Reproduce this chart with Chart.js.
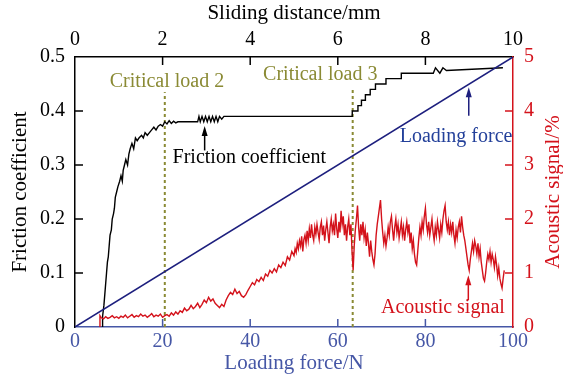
<!DOCTYPE html>
<html><head><meta charset="utf-8">
<script src="https://cdn.jsdelivr.net/npm/chart.js@4"></script>
<style>html,body{margin:0;padding:0;background:#fff}canvas{display:block}</style>
</head><body>
<canvas id="c" width="563" height="376"></canvas>
<script>
// ---------- DATA ----------
const loadRange = [0, 100];          // loading force, N
const slidingRange = [0, 10];        // sliding distance, mm
const frictionRange = [0, 0.5];
const acousticRange = [0, 5];

const loadingForceLoad = [0, 100];
const loadingForceCoef = [0, 0.5];

const criticalLoads = [20.5, 63.4];
const criticalTops = [0.435, 0.44];
const criticalLabels = ['Critical load 2', 'Critical load 3'];

const frictionLoad = [6.3,6.3,6.6,6.8,7.0,7.2,7.4,7.6,7.8,8.0,8.3,8.5,8.8,9.0,9.2,9.5,9.8,10.2,10.5,10.8,11.0,11.3,11.6,12.0,12.3,12.6,13.0,13.4,13.8,14.2,14.6,15.2,15.6,16.0,16.5,17.0,17.5,18.0,18.5,19.0,19.5,20.0,20.5,21.0,21.5,22.0,22.5,23.0,23.5,28.0,28.3,28.6,29.0,29.4,29.8,30.2,30.6,31.0,31.4,31.8,32.2,32.6,33.0,33.5,34.0,35.0,63.3,63.3,64.6,64.6,65.4,65.4,66.3,66.3,67.4,67.4,68.6,68.6,71.0,71.0,74.5,74.5,81.8,82.3,82.3,83.3,83.3,84.0,84.0,84.8,84.8,97.7];
const frictionCoef = [0,0.02,0.04,0.06,0.08,0.10,0.12,0.13,0.15,0.17,0.18,0.20,0.21,0.22,0.24,0.25,0.26,0.27,0.28,0.27,0.29,0.30,0.31,0.30,0.32,0.33,0.34,0.33,0.35,0.345,0.35,0.355,0.35,0.36,0.355,0.36,0.365,0.37,0.365,0.372,0.375,0.372,0.38,0.376,0.382,0.377,0.381,0.378,0.38,0.38,0.39,0.38,0.39,0.38,0.39,0.38,0.39,0.38,0.39,0.38,0.39,0.38,0.39,0.385,0.39,0.39,0.39,0.40,0.40,0.41,0.41,0.42,0.42,0.43,0.43,0.44,0.44,0.45,0.45,0.46,0.46,0.47,0.47,0.48,0.48,0.47,0.47,0.48,0.48,0.475,0.475,0.48,0.48];

const acousticLoad = [5.7,5.7,
 6,6.5,7,7.5,8,8.5,9,9.5,10,10.5,
 11,11.5,12,12.5,13,13.5,14,14.5,15,15.5,
 16,16.5,17,17.5,18,18.5,19,19.5,20,20.5,
 21,21.5,22,22.5,23,23.5,24,24.5,25,25.5,
 26,26.5,27,27.5,28,28.5,29,29.5,30,30.5,
 31,31.5,32,32.5,33,33.5,34,34.5,35,35.5,
 36,36.5,37,37.5,38,38.5,39,39.5,40,40.5,
 41,41.5,42,42.5,43,43.5,44,44.5,45,45.5,
 46,46.5,47,47.5,48,48.5,49,49.5,
 50,50.25,50.5,50.75,51,51.25,51.5,51.75,52,52.25,52.5,52.75,53,53.25,53.5,53.75,54,54.25,54.5,54.75,
 55,55.25,55.5,55.75,56,56.25,56.5,56.75,57,57.25,57.5,57.75,58,58.25,58.5,58.75,59,59.25,59.5,59.75,
 60,60.25,60.5,60.75,61,61.25,61.5,61.75,62,62.25,62.5,62.75,63,63.25,63.5,63.75,64,64.25,64.5,64.75,
 65,65.25,65.5,65.75,66,66.25,66.5,66.75,67,67.25,67.5,67.75,68,68.25,68.5,68.75,69,69.25,69.5,69.75,
 70,70.25,70.5,70.75,71,71.25,71.5,71.75,72,72.25,72.5,72.75,73,73.25,73.5,73.75,74,74.25,74.5,74.75,
 75,75.25,75.5,75.75,76,76.25,76.5,76.75,77,77.25,77.5,77.75,78,78.25,78.5,78.75,79,79.25,79.5,79.75,
 80,80.25,80.5,80.75,81,81.25,81.5,81.75,82,82.25,82.5,82.75,83,83.25,83.5,83.75,84,84.25,84.5,84.75,
 85,85.25,85.5,85.75,86,86.25,86.5,86.75,87,87.25,87.5,87.75,88,88.25,88.5,88.75,89,89.25,89.5,89.75,
 90,90.25,90.5,90.75,91,91.25,91.5,91.75,92,92.25,92.5,92.75,93,93.25,93.5,93.75,94,94.25,94.5,94.75,
 95,95.25,95.5,95.75,96,96.25,96.5,96.75,97,97.25,97.5,97.75,98];
const acousticSignal = [0,0.21,
 0.17,0.15,0.19,0.16,0.18,0.21,0.17,0.19,0.16,0.20,
 0.18,0.22,0.17,0.20,0.23,0.18,0.21,0.19,0.24,0.20,
 0.22,0.18,0.21,0.25,0.19,0.22,0.20,0.24,0.18,0.21,
 0.23,0.20,0.26,0.22,0.28,0.24,0.30,0.27,0.35,0.30,
 0.33,0.40,0.34,0.38,0.44,0.36,0.42,0.50,0.45,0.55,
 0.48,0.52,0.44,0.40,0.36,0.42,0.38,0.50,0.58,0.64,
 0.60,0.70,0.62,0.66,0.58,0.55,0.60,0.68,0.75,0.82,
 0.78,0.88,0.84,0.92,0.86,0.98,0.94,1.05,1.00,1.08,
 1.02,1.15,1.10,1.20,1.14,1.30,1.24,1.40,
 1.32,1.45,1.38,1.55,1.45,1.60,1.50,1.68,1.40,1.62,1.70,1.55,1.78,1.60,1.82,1.65,1.90,1.70,1.60,1.85,
 1.72,1.90,1.75,1.62,1.85,1.95,1.70,1.88,1.60,1.80,1.95,1.75,1.55,1.85,2.00,1.78,1.90,1.70,2.10,1.82,
 1.65,1.95,1.75,2.15,1.90,2.05,1.70,1.90,1.60,1.85,2.00,1.70,1.90,1.40,1.05,1.50,1.80,2.00,2.25,1.85,
 1.60,1.90,1.70,1.95,1.65,1.80,1.50,1.75,1.55,1.30,1.60,1.40,1.25,1.15,1.35,1.70,1.90,2.05,2.20,2.35,
 2.00,1.75,1.55,1.70,1.50,1.65,1.85,1.70,1.95,2.05,1.80,1.60,1.85,2.00,1.75,1.90,1.65,1.80,1.95,1.70,
 1.85,1.60,1.80,1.95,1.75,1.90,1.55,1.75,1.45,1.60,1.35,1.20,1.15,1.40,1.65,1.85,1.70,1.95,1.80,2.05,
 2.20,1.90,1.75,1.95,1.70,1.85,2.00,1.75,1.60,1.85,1.70,1.95,1.80,1.65,1.90,1.75,2.00,2.15,2.25,1.95,
 1.80,1.95,1.70,1.90,1.75,1.95,1.70,1.55,1.80,1.65,1.85,1.95,1.75,2.05,1.85,1.70,1.60,1.45,1.30,1.15,
 1.05,1.25,1.40,1.55,1.40,1.60,1.50,1.35,1.55,1.30,1.45,1.20,1.05,0.90,0.85,1.00,1.20,1.35,1.25,1.40,
 1.20,1.35,1.25,1.10,1.30,1.15,0.95,1.10,0.90,0.80,0.72,0.90,1.05];

// ---------- STYLE ----------
const FONT = '"Liberation Serif", "Times New Roman", serif';
const BLACK = '#000000';
const BLUE_AXIS = '#4657a6';
const NAVY = '#1d1f7e';
const NAVY_TEXT = '#23409a';
const RED = '#d4121b';
const OLIVE = '#8a8a34';

Chart.defaults.font.family = FONT;

const toXY = (xs, ys) => xs.map((v, i) => ({x: v, y: ys[i]}));

const datasets = [
  {label:'Acoustic signal', data: toXY(acousticLoad, acousticSignal), xAxisID:'x', yAxisID:'y2',
   borderColor: RED, borderWidth: 1.4, pointRadius: 0, tension: 0},
  {label:'Loading force', data: toXY(loadingForceLoad, loadingForceCoef), xAxisID:'x', yAxisID:'y',
   borderColor: NAVY, borderWidth: 1.5, pointRadius: 0},
  {label:'Friction coefficient', data: toXY(frictionLoad, frictionCoef), xAxisID:'x', yAxisID:'y',
   borderColor: BLACK, borderWidth: 1.4, pointRadius: 0, tension: 0}
];
criticalLoads.forEach((c, i) => datasets.push({
  label: criticalLabels[i], data: [{x:c, y:0}, {x:c, y:criticalTops[i]}], xAxisID:'x', yAxisID:'y',
  borderColor: OLIVE, borderWidth: 2, borderDash: [3, 3], pointRadius: 0
}));

function fixSize(prop, val) { return s => { s[prop] = val; }; }

const inwardTicks = {
  id: 'inwardTicks',
  afterDraw(chart) {
    const {ctx, chartArea: a, scales} = chart;
    const L = 8;
    ctx.save();
    ctx.lineWidth = 1.5;
    const draw = (scale, color, fn) => {
      ctx.strokeStyle = color;
      scale.ticks.forEach(t => {
        if (t.value === scale.min || t.value === scale.max) return;
        const p = scale.getPixelForValue(t.value);
        ctx.beginPath(); fn(p); ctx.stroke();
      });
    };
    draw(scales.y, BLACK, p => { ctx.moveTo(a.left, p); ctx.lineTo(a.left + L, p); });
    draw(scales.y2, RED, p => { ctx.moveTo(a.right, p); ctx.lineTo(a.right - L, p); });
    draw(scales.x, BLUE_AXIS, p => { ctx.moveTo(p, a.bottom); ctx.lineTo(p, a.bottom - L); });
    draw(scales.x2, BLACK, p => { ctx.moveTo(p, a.top); ctx.lineTo(p, a.top + L); });
    // right axis title (reads bottom to top)
    ctx.fillStyle = RED;
    ctx.font = '21px ' + FONT;
    ctx.textAlign = 'center'; ctx.textBaseline = 'middle';
    ctx.translate(553, (a.top + a.bottom) / 2);
    ctx.rotate(-Math.PI / 2);
    ctx.fillText('Acoustic signal/%', 0, 0);
    ctx.restore();
  }
};

const annotations = {
  id: 'annotations',
  afterDatasetsDraw(chart) {
    const {ctx, scales: {x, y, y2}} = chart;
    ctx.save();
    ctx.font = '20px ' + FONT;
    ctx.textAlign = 'center'; ctx.textBaseline = 'middle';
    const text = (s, col, px, py) => { ctx.fillStyle = col; ctx.fillText(s, px, py); };
    const arrow = (col, px, y0, y1) => {
      ctx.strokeStyle = col; ctx.fillStyle = col; ctx.lineWidth = 1.5;
      ctx.beginPath(); ctx.moveTo(px, y0); ctx.lineTo(px, y1 + 6); ctx.stroke();
      ctx.beginPath(); ctx.moveTo(px, y1); ctx.lineTo(px - 3, y1 + 10); ctx.lineTo(px + 3, y1 + 10); ctx.closePath(); ctx.fill();
    };
    text(criticalLabels[0], OLIVE, x.getPixelForValue(21), y.getPixelForValue(0.454));
    text(criticalLabels[1], OLIVE, x.getPixelForValue(56), y.getPixelForValue(0.467));
    text('Friction coefficient', BLACK, x.getPixelForValue(39.8), y.getPixelForValue(0.313));
    arrow(BLACK, x.getPixelForValue(29.6), y.getPixelForValue(0.327), y.getPixelForValue(0.372));
    text('Loading force', NAVY_TEXT, x.getPixelForValue(87), y.getPixelForValue(0.352));
    arrow(NAVY, x.getPixelForValue(89.9), y.getPixelForValue(0.391), y.getPixelForValue(0.444));
    text('Acoustic signal', RED, x.getPixelForValue(84), y2.getPixelForValue(0.35));
    arrow(RED, x.getPixelForValue(89.8), y2.getPixelForValue(0.5), y2.getPixelForValue(0.96));
    ctx.restore();
  }
};

new Chart(document.getElementById('c'), {
  type: 'line',
  data: { datasets },
  plugins: [annotations, inwardTicks],
  options: {
    responsive: false, animation: false,
    layout: { padding: 0 },
    plugins: { legend: {display: false}, tooltip: {enabled: false} },
    scales: {
      x: { type: 'linear', position: 'bottom', min: loadRange[0], max: loadRange[1],
        afterFit: fixSize('height', 49),
        ticks: { stepSize: 20, color: BLUE_AXIS, font: {size: 20}, padding: 3, maxRotation: 0 },
        grid: { display: false, drawTicks: false },
        border: { color: BLUE_AXIS, width: 1.5 },
        title: { display: true, text: 'Loading force/N', color: BLUE_AXIS, font: {size: 21}, padding: {top: 0, bottom: 0} } },
      x2: { type: 'linear', position: 'top', min: slidingRange[0], max: slidingRange[1],
        afterFit: fixSize('height', 57),
        ticks: { stepSize: 2, color: BLACK, font: {size: 20}, padding: 5, maxRotation: 0 },
        grid: { display: false, drawTicks: false },
        border: { color: BLACK, width: 1.5 },
        title: { display: true, text: 'Sliding distance/mm', color: BLACK, font: {size: 21}, padding: {top: 1, bottom: 0} } },
      y: { type: 'linear', position: 'left', min: frictionRange[0], max: frictionRange[1],
        afterFit: fixSize('width', 75),
        ticks: { stepSize: 0.1, color: BLACK, font: {size: 20}, padding: 10 },
        grid: { display: false, drawTicks: false },
        border: { color: BLACK, width: 1.5 },
        title: { display: true, text: 'Friction coefficient', color: BLACK, font: {size: 21}, padding: {top: 8, bottom: 0} } },
      y2: { type: 'linear', position: 'right', min: acousticRange[0], max: acousticRange[1],
        afterFit: fixSize('width', 50),
        ticks: { stepSize: 1, color: RED, font: {size: 20}, padding: 11 },
        grid: { display: false, drawTicks: false },
        border: { color: RED, width: 1.5 } }
    }
  }
});
</script>
</body></html>
